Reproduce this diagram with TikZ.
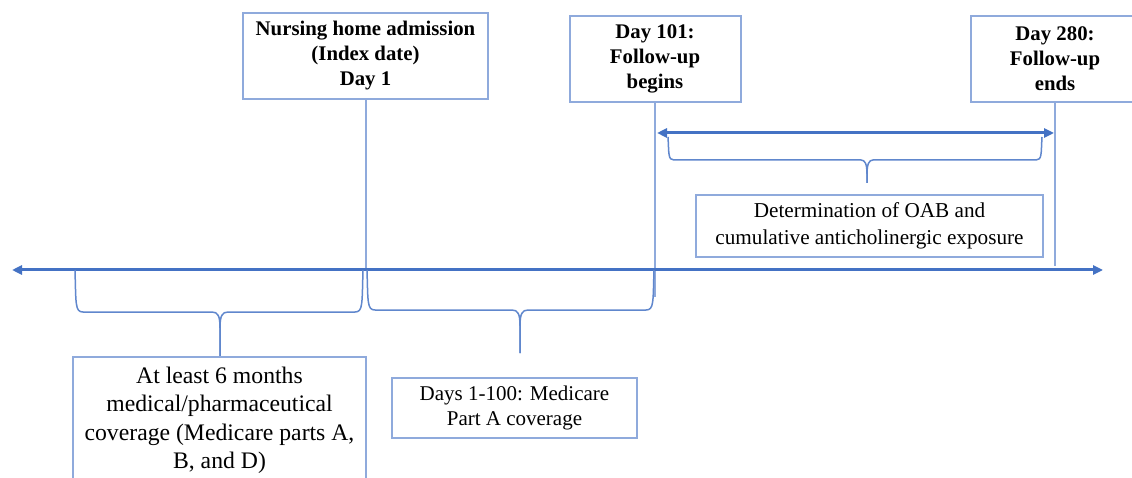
\documentclass[tikz,border=0pt]{standalone}
\usepackage{fontspec}
\setmainfont{Liberation Serif}
\usetikzlibrary{arrows.meta}
\definecolor{boxblue}{HTML}{8FAADC}
\definecolor{axisblue}{HTML}{4472C4}
\newcommand{\mybrace}[7]{%
  \draw[bracestyle] (#1,#4) .. controls (#1+1,#5-#7) and (#1,#5) .. (#1+#7,#5)
    -- (#3-#7,#5) .. controls (#3-2,#5) and (#3,#5+4) .. (#3,#5+#7+8) -- (#3,#6);
  \draw[bracestyle] (#3,#6) -- (#3,#5+#7+8) .. controls (#3,#5+4) and (#3+2,#5) .. (#3+#7,#5)
    -- (#2-#7,#5) .. controls (#2,#5) and (#2-1,#5-#7) .. (#2,#4);
}
\begin{document}
\begin{tikzpicture}[x=1pt,y=-1pt,
  box/.style={draw=boxblue, line width=2pt, fill=white, align=center, inner sep=0pt},
  topfont/.style={font=\fontsize{20.8}{25}\selectfont\bfseries},
  vline/.style={draw=boxblue, line width=2pt},
  axisline/.style={draw=axisblue, line width=3pt, {Triangle[length=10pt,width=9pt]}-{Triangle[length=10pt,width=9pt]}},
  bracestyle/.style={draw=axisblue!85, line width=1.5pt, line join=round}]
\clip (0,0) rectangle (1132,478);
\fill[white] (0,0) rectangle (1132,478);

% top boxes
\node[box, topfont, minimum width=245pt, minimum height=86pt] (b1) at (365.5,56)
  {Nursing home admission\\(Index date)\\Day 1};
\node[box, topfont, minimum width=171pt, minimum height=86pt] (b2) at (655,59)
  {Day 101:\\Follow-up\\begins};
\node[box, topfont, minimum width=168pt, minimum height=86pt] (b3) at (1055,59)
  {Day 280:\\Follow-up\\ends};

% axis
\coordinate (axL) at (12,270);
\coordinate (axR) at (1103,270);
\coordinate (e1) at (365.5,270);
\coordinate (e2) at (655,297);
\coordinate (e3) at (1055,266);
\draw[vline] (b1.south) -- (e1);
\draw[vline] (b2.south) -- (e2);
\draw[vline] (b3.south) -- (e3);
\draw[axisline] (axL) -- (axR);

% follow-up arrow
\coordinate (fa) at (657,133);
\coordinate (fb) at (1054,133);
\draw[axisline] (fa) -- (fb);

% braces
\mybrace{75}{363}{220}{270}{312}{357}{8}
\mybrace{367}{654}{520}{270}{310}{353}{8}
\mybrace{668}{1042}{867}{137}{160}{183}{6}

% lower boxes
\node[box, minimum width=347pt, minimum height=62pt, font=\fontsize{21.2}{27}\selectfont] (b4) at (869.5,226)
  {Determination of OAB and\\cumulative anticholinergic exposure};
\node[box, minimum width=293pt, minimum height=127pt, font=\fontsize{23.7}{28.5}\selectfont] (b5) at (219.5,420.5)
  {At least 6 months\\medical/pharmaceutical\\coverage (Medicare parts A,\\B, and D)};
\node[box, minimum width=245pt, minimum height=60pt, font=\fontsize{21}{25}\selectfont] (b6) at (514.5,408)
  {Days 1-100: Medicare\\Part A coverage};
\end{tikzpicture}
\end{document}
